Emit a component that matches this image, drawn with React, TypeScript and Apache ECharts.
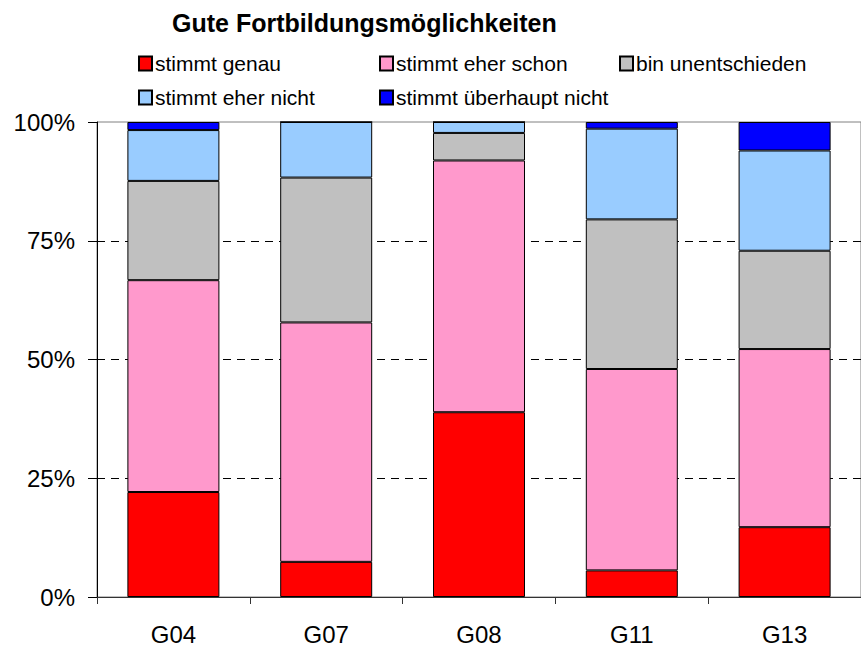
import React, { useEffect, useRef } from "react";
import * as echarts from "echarts";

const categories = ["G04", "G07", "G08", "G11", "G13"];
const seriesNames = [
  "stimmt genau",
  "stimmt eher schon",
  "bin unentschieden",
  "stimmt eher nicht",
  "stimmt überhaupt nicht",
];
const genau = [22.1, 7.4, 38.9, 5.6, 14.7];
const eherSchon = [44.6, 50.4, 53.0, 42.4, 37.5];
const unentschieden = [20.9, 30.5, 5.8, 31.5, 20.7];
const eherNicht = [10.7, 11.7, 2.3, 19.1, 21.1];
const ueberhauptNicht = [1.7, 0, 0, 1.4, 6.0];
const colors = ["#FF0000", "#FF99CC", "#C0C0C0", "#99CCFF", "#0000FF"];
const yTicks = [0, 25, 50, 75, 100];

export default function App() {
  const ref = useRef<HTMLDivElement>(null);
  useEffect(() => {
    if (!ref.current) return;
    const chart = echarts.init(ref.current, null, { renderer: "svg" });
    const values = [genau, eherSchon, unentschieden, eherNicht, ueberhauptNicht];
    const legendPos = [
      { left: 138, top: 53 },
      { left: 379, top: 53 },
      { left: 619, top: 53 },
      { left: 138, top: 87 },
      { left: 379, top: 87 },
    ];
    const option = {
      animation: false,
      backgroundColor: "#ffffff",
      title: {
        text: "Gute Fortbildungsmöglichkeiten",
        left: 172,
        top: 10,
        padding: 0,
        textStyle: {
          fontFamily: "Liberation Sans, Arial, sans-serif",
          fontSize: 25,
          fontWeight: "bold",
          color: "#000",
        },
      },
      legend: seriesNames.map((n, i) => ({
        data: [n],
        left: legendPos[i].left,
        top: legendPos[i].top,
        padding: 0,
        itemWidth: 13,
        itemHeight: 14,
        icon: "rect",
        selectedMode: false,
        textStyle: {
          fontFamily: "Liberation Sans, Arial, sans-serif",
          fontSize: 21,
          color: "#000",
          padding: [0, 0, 0, -2],
        },
      })),
      grid: {
        left: 97,
        top: 122,
        width: 779,
        height: 476,
        show: true,
        borderColor: "#808080",
        borderWidth: 1,
        backgroundColor: "transparent",
      },
      xAxis: {
        type: "category",
        data: categories,
        axisLine: { lineStyle: { color: "#333", width: 1 } },
        axisTick: { show: true, length: 7, alignWithLabel: false, lineStyle: { color: "#333" } },
        axisLabel: {
          margin: 25,
          fontFamily: "Liberation Sans, Arial, sans-serif",
          fontSize: 24,
          color: "#000",
        },
        splitLine: { show: false },
      },
      yAxis: {
        type: "value",
        min: yTicks[0],
        max: yTicks[yTicks.length - 1],
        interval: 25,
        axisLine: { show: true, lineStyle: { color: "#000", width: 1 } },
        axisTick: { show: true, length: 9, lineStyle: { color: "#000" } },
        axisLabel: {
          formatter: "{value}%",
          margin: 22,
          fontFamily: "Liberation Sans, Arial, sans-serif",
          fontSize: 24,
          color: "#000",
        },
        splitLine: {
          show: true,
          showMinLine: false,
          showMaxLine: false,
          lineStyle: { color: "#000", type: [8, 6], width: 1 },
        },
      },
      series: seriesNames.map((n, i) => ({
        name: n,
        type: "bar",
        stack: "total",
        barWidth: 92,
        data: values[i],
        itemStyle: { color: colors[i], borderColor: "#000", borderWidth: 1 },
      })),
    };
    chart.setOption(option as any);
    return () => chart.dispose();
  }, []);
  return (
    <div
      ref={ref}
      style={{ position: "fixed", left: 0, top: 0, width: 861, height: 646 }}
    />
  );
}
